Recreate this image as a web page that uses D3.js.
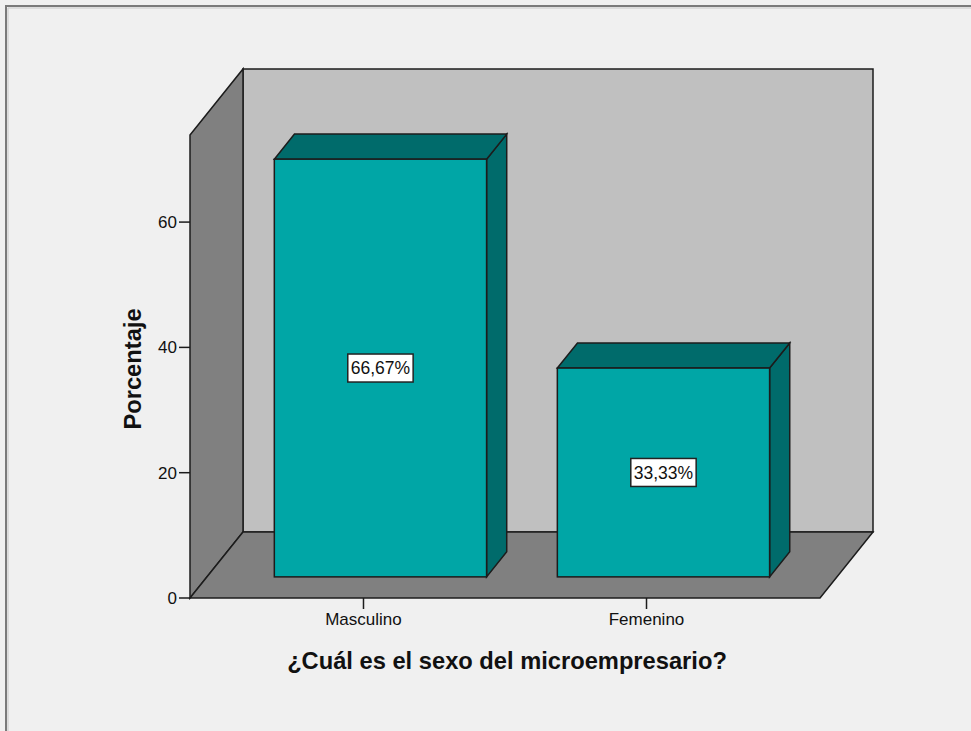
<!DOCTYPE html>
<html>
<head>
<meta charset="utf-8">
<script src="https://cdn.jsdelivr.net/npm/d3@7"></script>
<style>
  html, body { margin: 0; padding: 0; background: #f0f0f0; }
  svg { display: block; font-family: Arial, "Liberation Sans", Helvetica, sans-serif; }
</style>
</head>
<body>
<svg id="chart" width="971" height="731"></svg>
<script>
// Data
const categories = ["Masculino", "Femenino"];
const percentages = [66.67, 33.33];
const yTicks = [0, 20, 40, 60];
const xTitle = "¿Cuál es el sexo del microempresario?";
const yTitle = "Porcentaje";

const svg = d3.select("#chart");
const W = 971, H = 731;

// Pseudo-3D geometry: front plane of the plot and the depth vector to the back wall
const front = { left: 190, right: 820, bottom: 598, top: 135 };
const depth = { dx: 53, dy: -66 };
const barDepth = [0.32, 0.70]; // bars sit between these depth fractions

const y = d3.scaleLinear().domain([0, 73.9]).range([front.bottom, front.top]);
const x = d3.scaleBand().domain(categories)
  .range([front.left, front.right]).paddingInner(0.25).paddingOuter(0.238);
const dz = d3.scaleLinear().domain([0, 1]).range([0, 1]);
const off = f => [depth.dx * dz(f), depth.dy * dz(f)];

const stroke = "#1c1c1c";

// Outer frame
svg.append("rect").attr("width", W).attr("height", H).attr("fill", "#f0f0f0");
svg.append("path")
  .attr("d", `M6,${H} L6,6 L${W},6`)
  .attr("fill", "none").attr("stroke", "#7a7a7a").attr("stroke-width", 2);
svg.append("path")
  .attr("d", `M8,${H} L8,8 L${W},8`)
  .attr("fill", "none").attr("stroke", "#c8c8c8").attr("stroke-width", 1);

const [bx, by] = off(1);
const line = d3.line();

// Back wall
svg.append("path")
  .attr("d", line([[front.left + bx, y(73.9) + by], [front.right + bx, y(73.9) + by],
                   [front.right + bx, y(0) + by], [front.left + bx, y(0) + by]]) + "Z")
  .attr("fill", "#c0c0c0").attr("stroke", stroke).attr("stroke-width", 1.5);

// Side wall
svg.append("path")
  .attr("d", line([[front.left, y(73.9)], [front.left + bx, y(73.9) + by],
                   [front.left + bx, y(0) + by], [front.left, y(0)]]) + "Z")
  .attr("fill", "#808080").attr("stroke", stroke).attr("stroke-width", 1.5);

// Floor
svg.append("path")
  .attr("d", line([[front.left, y(0)], [front.left + bx, y(0) + by],
                   [front.right + bx, y(0) + by], [front.right, y(0)]]) + "Z")
  .attr("fill", "#808080").attr("stroke", stroke).attr("stroke-width", 1.5);

// Bars
const [fx, fy] = off(barDepth[0]);
const [kx, ky] = off(barDepth[1]);
const fmt = d3.formatLocale({ decimal: ",", thousands: ".", grouping: [3], currency: ["", "€"] }).format(".2f");

const bars = svg.append("g").selectAll("g")
  .data(categories.map((c, i) => ({ c, v: percentages[i] })))
  .join("g");

bars.each(function (d) {
  const g = d3.select(this);
  const x0 = x(d.c) + fx, x1 = x(d.c) + x.bandwidth() + fx;
  const yt = y(d.v) + fy, yb = y(0) + fy;
  const ddx = kx - fx, ddy = ky - fy;
  // right side
  g.append("path")
    .attr("d", line([[x1, yt], [x1 + ddx, yt + ddy], [x1 + ddx, yb + ddy], [x1, yb]]) + "Z")
    .attr("fill", "#006b6b").attr("stroke", stroke).attr("stroke-width", 1.5);
  // top
  g.append("path")
    .attr("d", line([[x0, yt], [x0 + ddx, yt + ddy], [x1 + ddx, yt + ddy], [x1, yt]]) + "Z")
    .attr("fill", "#006b6b").attr("stroke", stroke).attr("stroke-width", 1.5);
  // front face
  g.append("rect")
    .attr("x", x0).attr("y", yt).attr("width", x1 - x0).attr("height", yb - yt)
    .attr("fill", "#00a6a6").attr("stroke", stroke).attr("stroke-width", 1.5);

  // value label
  const cx = (x0 + x1) / 2, cy = (yt + yb) / 2;
  const t = g.append("text")
    .attr("x", cx).attr("y", cy).attr("dy", "0.35em")
    .attr("text-anchor", "middle").attr("font-size", 17.5).attr("fill", "#111")
    .text(fmt(d.v) + "%");
  const bb = t.node().getBBox();
  g.insert("rect", "text")
    .attr("x", bb.x - 3).attr("y", cy - 14).attr("width", bb.width + 6).attr("height", 28)
    .attr("fill", "#ffffff").attr("stroke", "#222").attr("stroke-width", 1.5);
});

// Y axis ticks and labels
const yAxis = svg.append("g");
yAxis.selectAll("line").data(yTicks).join("line")
  .attr("x1", front.left - 11).attr("x2", front.left)
  .attr("y1", d => y(d)).attr("y2", d => y(d))
  .attr("stroke", stroke).attr("stroke-width", 1.5);
yAxis.selectAll("text").data(yTicks).join("text")
  .attr("x", front.left - 13).attr("y", d => y(d)).attr("dy", "0.35em")
  .attr("text-anchor", "end").attr("font-size", 17).attr("fill", "#111")
  .text(d => d);

// X axis ticks and labels
const xAxis = svg.append("g");
xAxis.selectAll("line").data(categories).join("line")
  .attr("x1", d => x(d) + x.bandwidth() / 2).attr("x2", d => x(d) + x.bandwidth() / 2)
  .attr("y1", y(0)).attr("y2", y(0) + 11)
  .attr("stroke", stroke).attr("stroke-width", 1.5);
xAxis.selectAll("text").data(categories).join("text")
  .attr("x", d => x(d) + x.bandwidth() / 2).attr("y", 625)
  .attr("text-anchor", "middle").attr("font-size", 17).attr("fill", "#111")
  .text(d => d);

// Axis titles
svg.append("text")
  .attr("x", 507).attr("y", 669)
  .attr("text-anchor", "middle").attr("font-size", 23.7).attr("font-weight", "bold").attr("fill", "#111")
  .text(xTitle);
svg.append("text")
  .attr("transform", "translate(141,369) rotate(-90)")
  .attr("text-anchor", "middle").attr("font-size", 23.7).attr("font-weight", "bold").attr("fill", "#111")
  .text(yTitle);
</script>
</body>
</html>
